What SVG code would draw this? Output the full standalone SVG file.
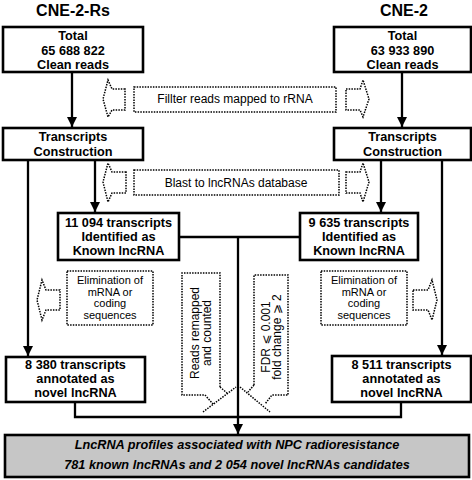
<svg xmlns="http://www.w3.org/2000/svg" width="472" height="480" viewBox="0 0 472 480">
<style>
.box{fill:#fff;stroke:#000;stroke-width:2.6}
.gbox{fill:#c6c6c6;stroke:#000;stroke-width:2.6}
.dot{fill:#fff;stroke:#000;stroke-width:1.5;stroke-dasharray:1.5 1.2}
.dotl{fill:none;stroke:#000;stroke-width:1.5;stroke-dasharray:1.5 1.2}
.b{font-family:"Liberation Sans",Arial,sans-serif;font-weight:bold;font-size:12.7px;text-anchor:middle;fill:#000}
.t{font-family:"Liberation Sans",Arial,sans-serif;font-weight:bold;font-size:16px;text-anchor:middle;fill:#000}
.n{font-family:"Liberation Sans","DejaVu Sans",Arial,sans-serif;font-size:12px;text-anchor:middle;fill:#000}
.e{font-family:"Liberation Sans",Arial,sans-serif;font-size:11px;text-anchor:middle;fill:#000}
.bi{font-family:"Liberation Sans",Arial,sans-serif;font-weight:bold;font-style:italic;font-size:12.7px;text-anchor:middle;fill:#000}
.c{fill:none;stroke:#000;stroke-width:2.3}
</style>
<defs>
<marker id="ah" viewBox="0 0 10 10" refX="10" refY="5" markerWidth="10" markerHeight="11" markerUnits="userSpaceOnUse" orient="auto">
<path d="M0,0 L10,5 L0,10 z" fill="#000"/>
</marker>
</defs>

<g id="titles">
<text class="t" x="73" y="16">CNE-2-Rs</text>
<text class="t" x="404" y="16">CNE-2</text>
</g>

<g id="connectors">
<line class="c" x1="72" y1="72" x2="72" y2="127" marker-end="url(#ah)"/>
<line class="c" x1="402" y1="72" x2="402" y2="127" marker-end="url(#ah)"/>
<line class="c" x1="28" y1="160" x2="28" y2="356" marker-end="url(#ah)"/>
<line class="c" x1="95" y1="160" x2="95" y2="212" marker-end="url(#ah)"/>
<line class="c" x1="381" y1="160" x2="381" y2="212" marker-end="url(#ah)"/>
<line class="c" x1="442" y1="160" x2="442" y2="355" marker-end="url(#ah)"/>
<line class="c" x1="179" y1="237" x2="300" y2="237"/>
<line class="c" x1="238" y1="237" x2="238" y2="434" marker-end="url(#ah)"/>
<polyline class="c" points="75,402 75,417 401,417 401,402"/>
</g>

<g id="n-total-rs">
<rect class="box" x="3" y="27" width="140" height="45"/>
<text class="b" x="73" y="40">Total</text>
<text class="b" x="73" y="55">65 688 822</text>
<text class="b" x="73" y="69">Clean reads</text>
</g>
<g id="n-total-cne2">
<rect class="box" x="334" y="27" width="137" height="45"/>
<text class="b" x="402.5" y="40">Total</text>
<text class="b" x="402.5" y="55">63 933 890</text>
<text class="b" x="402.5" y="69">Clean reads</text>
</g>

<g id="n-filter">
<rect class="dot" x="134" y="87" width="202" height="25"/>
<text class="n" x="235" y="103">Fillter reads mapped to rRNA</text>
<polygon class="dot" points="125,89 112,89 108,80 103,99 108,117 112,110 125,110"/>
<polygon class="dot" points="346,89 360,89 363,80 369,99 363,117 360,110 346,110"/>
</g>

<g id="n-tc-rs">
<rect class="box" x="3" y="128" width="140" height="32"/>
<text class="b" x="73" y="141">Transcripts</text>
<text class="b" x="73" y="156">Construction</text>
</g>
<g id="n-tc-cne2">
<rect class="box" x="334" y="128" width="137" height="32"/>
<text class="b" x="402.5" y="141">Transcripts</text>
<text class="b" x="402.5" y="156">Construction</text>
</g>

<g id="n-blast">
<rect class="dot" x="134" y="170" width="205" height="25"/>
<text class="n" x="236" y="187">Blast to lncRNAs database</text>
<polygon class="dot" points="126,172 112,172 108,163 103,182 108,202 112,193 126,193"/>
<polygon class="dot" points="346,172 360,172 363,163 369,182 363,202 360,193 346,193"/>
</g>

<g id="n-known-rs">
<rect class="box" x="58" y="213" width="121" height="47"/>
<text class="b" x="118.5" y="227">11 094 transcripts</text>
<text class="b" x="118.5" y="241">Identified as</text>
<text class="b" x="118.5" y="255">Known lncRNA</text>
</g>
<g id="n-known-cne2">
<rect class="box" x="300" y="213" width="118" height="47"/>
<text class="b" x="359" y="227">9 635 transcripts</text>
<text class="b" x="359" y="241">Identified as</text>
<text class="b" x="359" y="255">Known lncRNA</text>
</g>

<g id="n-elim-rs">
<rect class="dot" x="67" y="271" width="86" height="54"/>
<text class="e" x="110" y="284">Elimination of</text>
<text class="e" x="110" y="295.5">mRNA or</text>
<text class="e" x="110" y="307">coding</text>
<text class="e" x="110" y="318.5">sequences</text>
<polygon class="dot" points="60,290 46,290 42,280 37,300 42,320 46,310 60,310"/>
</g>
<g id="n-elim-cne2">
<rect class="dot" x="321" y="271" width="86" height="54"/>
<text class="e" x="364" y="284">Elimination of</text>
<text class="e" x="364" y="295.5">mRNA or</text>
<text class="e" x="364" y="307">coding</text>
<text class="e" x="364" y="318.5">sequences</text>
<polygon class="dot" points="413,290 428,290 432,280 437,300 432,320 428,310 413,310"/>
</g>

<g id="n-reads">
<path class="dotl" d="M220,387 L220,273 L182,273 L182,395 L205,395 L213,404 M220,387 L227,393 M203,412 L236,387"/>
<text class="n" transform="translate(199,333) rotate(-90)">Reads remapped</text>
<text class="n" transform="translate(211,333) rotate(-90)">and counted</text>
</g>
<g id="n-fdr">
<path class="dotl" d="M254,385 L254,275 L288,275 L288,395 L272,395 L265,404 M254,385 L248,392 M240,387 L270,412"/>
<text class="n" transform="translate(270,337) rotate(-90)">FDR ⩽ 0.001</text>
<text class="n" transform="translate(281,337) rotate(-90)">fold change ⩾ 2</text>
</g>

<g id="n-novel-rs">
<rect class="box" x="6" y="357" width="139" height="45"/>
<text class="b" x="75.5" y="369">8 380 transcripts</text>
<text class="b" x="75.5" y="383">annotated as</text>
<text class="b" x="75.5" y="397">novel lncRNA</text>
</g>
<g id="n-novel-cne2">
<rect class="box" x="332" y="356" width="139" height="46"/>
<text class="b" x="401.5" y="369">8 511 transcripts</text>
<text class="b" x="401.5" y="383">annotated as</text>
<text class="b" x="401.5" y="397">novel lncRNA</text>
</g>

<g id="n-result">
<rect class="gbox" x="5" y="435" width="464" height="42"/>
<text class="bi" x="237" y="449">LncRNA profiles associated with NPC radioresistance</text>
<text class="bi" x="237" y="469">781 known lncRNAs and 2 054 novel lncRNAs candidates</text>
</g>
</svg>
